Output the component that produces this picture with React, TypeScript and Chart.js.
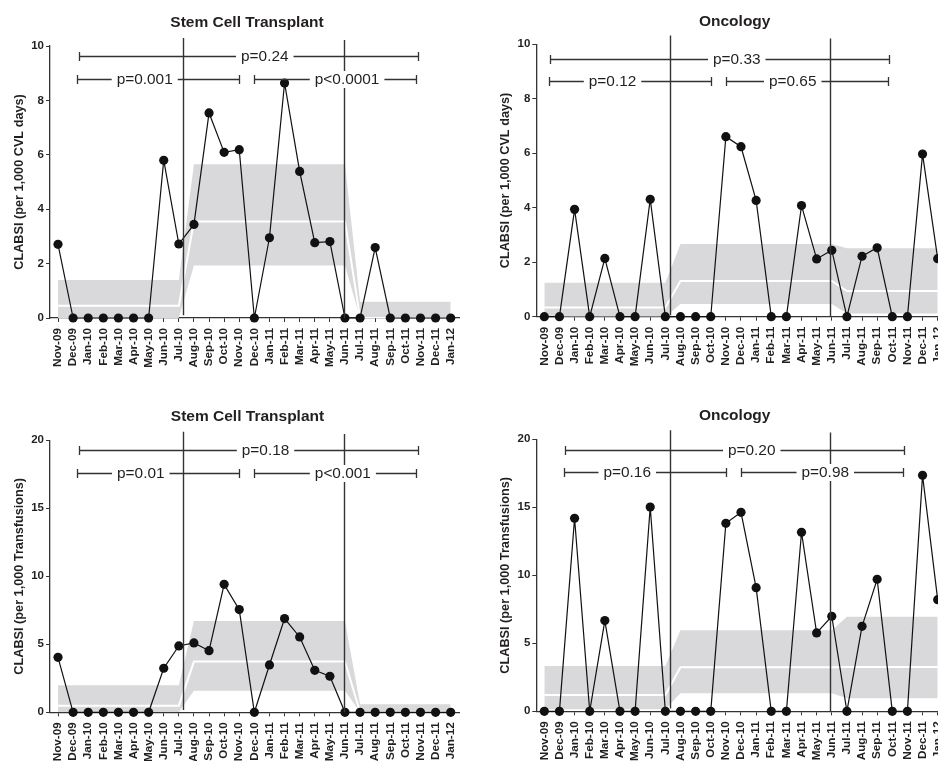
import React, { useEffect, useRef } from "react";
import { Chart, registerables } from "chart.js";

Chart.register(...registerables);

const FONT = '"Liberation Sans", Arial, Helvetica, sans-serif';
const INK = "#231f20";
const AXIS = "#333333";
const BAND = "#d9d9db";

const months = [
  "Nov-09", "Dec-09", "Jan-10", "Feb-10", "Mar-10", "Apr-10", "May-10", "Jun-10", "Jul-10",
  "Aug-10", "Sep-10", "Oct-10", "Nov-10", "Dec-10", "Jan-11", "Feb-11", "Mar-11", "Apr-11",
  "May-11", "Jun-11", "Jul-11", "Aug-11", "Sep-11", "Oct-11", "Nov-11", "Dec-11", "Jan-12",
];

// Stem Cell Transplant – CLABSI per 1,000 CVL days
const sctCvlRates = [2.71, 0, 0, 0, 0, 0, 0, 5.8, 2.72, 3.44, 7.54, 6.09, 6.19, 0, 2.95, 8.64, 5.39, 2.77, 2.81, 0, 0, 2.59, 0, 0, 0, 0, 0];
const sctCvlUpper = [1.4, 1.4, 1.4, 1.4, 1.4, 1.4, 1.4, 1.4, 1.4, 5.65, 5.65, 5.65, 5.65, 5.65, 5.65, 5.65, 5.65, 5.65, 5.65, 5.65, 0.6, 0.6, 0.6, 0.6, 0.6, 0.6, 0.6];
const sctCvlMedian = [0.45, 0.45, 0.45, 0.45, 0.45, 0.45, 0.45, 0.45, 0.45, 3.55, 3.55, 3.55, 3.55, 3.55, 3.55, 3.55, 3.55, 3.55, 3.55, 3.55, 0, 0, 0, 0, 0, 0, 0];
const sctCvlLower = [0, 0, 0, 0, 0, 0, 0, 0, 0, 1.93, 1.93, 1.93, 1.93, 1.93, 1.93, 1.93, 1.93, 1.93, 1.93, 1.93, 0, 0, 0, 0, 0, 0, 0];
const sctCvlBrackets: [number, number, number, string, number][] = [
  [1.37, 23.84, 9.65, "p=0.24", 13.69],
  [1.26, 12.01, 8.79, "p=0.001", 5.74],
  [12.98, 23.71, 8.79, "p<0.0001", 19.14],
];
const sctCvlPhaseLines: [number, number, number][] = [[8.28, 10.29, 0.1], [18.95, 10.22, 0]];

// Oncology – CLABSI per 1,000 CVL days
const oncCvlRates = [0, 0, 3.94, 0, 2.14, 0, 0, 4.31, 0, 0, 0, 0, 6.61, 6.24, 4.27, 0, 0, 4.08, 2.12, 2.44, 0, 2.22, 2.53, 0, 0, 5.97, 2.13];
const oncCvlUpper = [1.25, 1.25, 1.25, 1.25, 1.25, 1.25, 1.25, 1.25, 1.25, 2.67, 2.67, 2.67, 2.67, 2.67, 2.67, 2.67, 2.67, 2.67, 2.67, 2.67, 2.51, 2.51, 2.51, 2.51, 2.51, 2.51, 2.51];
const oncCvlMedian = [0.34, 0.34, 0.34, 0.34, 0.34, 0.34, 0.34, 0.34, 0.34, 1.31, 1.31, 1.31, 1.31, 1.31, 1.31, 1.31, 1.31, 1.31, 1.31, 1.31, 0.94, 0.94, 0.94, 0.94, 0.94, 0.94, 0.94];
const oncCvlLower = [0, 0, 0, 0, 0, 0, 0, 0, 0, 0.47, 0.47, 0.47, 0.47, 0.47, 0.47, 0.47, 0.47, 0.47, 0.47, 0.47, 0.12, 0.12, 0.12, 0.12, 0.12, 0.12, 0.12];
const oncCvlBrackets: [number, number, number, string, number][] = [
  [0.4, 22.8, 9.46, "p=0.33", 12.72],
  [0.29, 11.02, 8.66, "p=0.12", 4.51],
  [11.99, 22.7, 8.66, "p=0.65", 16.42],
];
const oncCvlPhaseLines: [number, number, number][] = [[8.29, 10.32, 0.05], [18.9, 10.21, 0]];

// Stem Cell Transplant – CLABSI per 1,000 Transfusions
const sctTxRates = [4.04, 0, 0, 0, 0, 0, 0, 3.24, 4.88, 5.1, 4.53, 9.41, 7.55, 0, 3.48, 6.89, 5.54, 3.09, 2.65, 0, 0, 0, 0, 0, 0, 0, 0];
const sctTxUpper = [1.99, 1.99, 1.99, 1.99, 1.99, 1.99, 1.99, 1.99, 1.99, 6.72, 6.72, 6.72, 6.72, 6.72, 6.72, 6.72, 6.72, 6.72, 6.72, 6.72, 0.59, 0.59, 0.59, 0.59, 0.59, 0.59, 0.59];
const sctTxMedian = [0.49, 0.49, 0.49, 0.49, 0.49, 0.49, 0.49, 0.49, 0.49, 3.73, 3.73, 3.73, 3.73, 3.73, 3.73, 3.73, 3.73, 3.73, 3.73, 3.73, 0, 0, 0, 0, 0, 0, 0];
const sctTxLower = [0, 0, 0, 0, 0, 0, 0, 0, 0, 1.59, 1.59, 1.59, 1.59, 1.59, 1.59, 1.59, 1.59, 1.59, 1.59, 1.59, 0, 0, 0, 0, 0, 0, 0];
const sctTxBrackets: [number, number, number, string, number][] = [
  [1.39, 23.83, 19.26, "p=0.18", 13.74],
  [1.28, 12.01, 17.6, "p=0.01", 5.48],
  [12.98, 23.7, 17.6, "p<0.001", 18.86],
];
const sctTxPhaseLines: [number, number, number][] = [[8.29, 20.63, 0.17], [18.96, 20.46, 0]];

// Oncology – CLABSI per 1,000 Transfusions
const oncTxRates = [0, 0, 14.19, 0, 6.67, 0, 0, 15.02, 0, 0, 0, 0, 13.82, 14.63, 9.09, 0, 0, 13.16, 5.76, 6.99, 0, 6.25, 9.71, 0, 0, 17.35, 8.21];
const oncTxUpper = [3.33, 3.33, 3.33, 3.33, 3.33, 3.33, 3.33, 3.33, 3.33, 5.96, 5.96, 5.96, 5.96, 5.96, 5.96, 5.96, 5.96, 5.96, 5.96, 5.96, 6.96, 6.96, 6.96, 6.96, 6.96, 6.96, 6.96];
const oncTxMedian = [1.2, 1.2, 1.2, 1.2, 1.2, 1.2, 1.2, 1.2, 1.2, 3.23, 3.23, 3.23, 3.23, 3.23, 3.23, 3.23, 3.23, 3.23, 3.23, 3.23, 3.26, 3.26, 3.26, 3.26, 3.26, 3.26, 3.26];
const oncTxLower = [0.15, 0.15, 0.15, 0.15, 0.15, 0.15, 0.15, 0.15, 0.15, 1.32, 1.32, 1.32, 1.32, 1.32, 1.32, 1.32, 1.32, 1.32, 1.32, 1.32, 0.96, 0.96, 0.96, 0.96, 0.96, 0.96, 0.96];
const oncTxBrackets: [number, number, number, string, number][] = [
  [1.39, 23.77, 19.24, "p=0.20", 13.71],
  [1.3, 12.0, 17.57, "p=0.16", 5.48],
  [12.98, 23.7, 17.57, "p=0.98", 18.57],
];
const oncTxPhaseLines: [number, number, number][] = [[8.29, 20.66, 0.2], [18.9, 20.5, 0]];

type Panel = {
  key: string;
  left: number; top: number; width: number; height: number;
  yWidth: number; padTop: number; padRight: number; xHeight: number; yTitlePad: number;
  title: string; titleX: number; titleBaseline: number;
  yTitle: string; yMax: number; yStep: number;
  rates: number[]; upper: number[]; median: number[]; lower: number[];
  brackets: [number, number, number, string, number][];
  phases: [number, number, number][];
};

const panels: Panel[] = [
  {
    key: "sct-cvl", left: 0, top: 0, width: 469, height: 380,
    yWidth: 50, padTop: 46, padRight: 10, xHeight: 62, yTitlePad: 11.4,
    title: "Stem Cell Transplant", titleX: 247, titleBaseline: 26.7,
    yTitle: "CLABSI (per 1,000 CVL days)", yMax: 10, yStep: 2,
    rates: sctCvlRates, upper: sctCvlUpper, median: sctCvlMedian, lower: sctCvlLower,
    brackets: sctCvlBrackets, phases: sctCvlPhaseLines,
  },
  {
    key: "onc-cvl", left: 469, top: 0, width: 490, height: 380,
    yWidth: 67.3, padTop: 44.3, padRight: 13, xHeight: 63.3, yTitlePad: 28.6,
    title: "Oncology", titleX: 265.7, titleBaseline: 26,
    yTitle: "CLABSI (per 1,000 CVL days)", yMax: 10, yStep: 2,
    rates: oncCvlRates, upper: oncCvlUpper, median: oncCvlMedian, lower: oncCvlLower,
    brackets: oncCvlBrackets, phases: oncCvlPhaseLines,
  },
  {
    key: "sct-tx", left: 0, top: 380, width: 469, height: 381,
    yWidth: 50, padTop: 60.3, padRight: 10, xHeight: 48.7, yTitlePad: 11.4,
    title: "Stem Cell Transplant", titleX: 247.5, titleBaseline: 41,
    yTitle: "CLABSI (per 1,000 Transfusions)", yMax: 20, yStep: 5,
    rates: sctTxRates, upper: sctTxUpper, median: sctTxMedian, lower: sctTxLower,
    brackets: sctTxBrackets, phases: sctTxPhaseLines,
  },
  {
    key: "onc-tx", left: 469, top: 380, width: 490, height: 381,
    yWidth: 67.3, padTop: 59.3, padRight: 13, xHeight: 49.7, yTitlePad: 28.9,
    title: "Oncology", titleX: 265.7, titleBaseline: 40,
    yTitle: "CLABSI (per 1,000 Transfusions)", yMax: 20, yStep: 5,
    rates: oncTxRates, upper: oncTxUpper, median: oncTxMedian, lower: oncTxLower,
    brackets: oncTxBrackets, phases: oncTxPhaseLines,
  },
];

function makeOverlay(p: Panel) {
  return {
    id: "overlay-" + p.key,
    afterDatasetsDraw(chart: any) {
      const { ctx } = chart;
      const xs = chart.scales.x;
      const ys = chart.scales.y;
      ctx.save();
      // phase boundary lines
      ctx.strokeStyle = AXIS;
      ctx.lineWidth = 1.4;
      for (const [lx, t, b] of p.phases) {
        const px = Math.round(xs.getPixelForValue(lx)) + 0.5;
        ctx.beginPath();
        ctx.moveTo(px, ys.getPixelForValue(t));
        ctx.lineTo(px, ys.getPixelForValue(b));
        ctx.stroke();
      }
      // p-value brackets
      ctx.font = `15.4px ${FONT}`;
      ctx.textAlign = "center";
      ctx.textBaseline = "middle";
      for (const [from, to, level, label, at] of p.brackets) {
        const x1 = Math.round(xs.getPixelForValue(from)) + 0.5;
        const x2 = Math.round(xs.getPixelForValue(to)) + 0.5;
        const yy = Math.round(ys.getPixelForValue(level)) + 0.5;
        ctx.strokeStyle = AXIS;
        ctx.lineWidth = 1.3;
        ctx.beginPath();
        ctx.moveTo(x1, yy);
        ctx.lineTo(x2, yy);
        ctx.moveTo(x1, yy - 4.5);
        ctx.lineTo(x1, yy + 4.5);
        ctx.moveTo(x2, yy - 4.5);
        ctx.lineTo(x2, yy + 4.5);
        ctx.stroke();
        const cx = xs.getPixelForValue(at);
        const w = ctx.measureText(label).width;
        ctx.fillStyle = "#ffffff";
        ctx.fillRect(cx - w / 2 - 5, yy - 8.5, w + 10, 17);
        ctx.fillStyle = INK;
        ctx.fillText(label, cx, yy + 0.5);
      }
      // panel title
      ctx.font = `bold 15.5px ${FONT}`;
      ctx.textBaseline = "alphabetic";
      ctx.fillStyle = INK;
      ctx.fillText(p.title, p.titleX, p.titleBaseline);
      ctx.restore();
    },
  };
}

function PanelChart({ p }: { p: Panel }) {
  const ref = useRef<HTMLCanvasElement | null>(null);
  useEffect(() => {
    const canvas = ref.current;
    if (!canvas) return;
    const pts = (arr: number[]) => arr.map((v, i) => ({ x: i, y: v }));
    const yTickFont = { family: FONT, size: 11.5, weight: "bold" as const };
    const xTickFont = { family: FONT, size: 11.7, weight: "bold" as const };
    const chart = new Chart(canvas, {
      type: "line",
      data: {
        datasets: [
          {
            data: pts(p.rates),
            borderColor: "#111111",
            backgroundColor: "#111111",
            borderWidth: 1.2,
            pointRadius: 4.6,
            pointBackgroundColor: "#111111",
            pointBorderWidth: 0,
            tension: 0,
            fill: false,
            clip: false as any,
          },
          {
            data: pts(p.median),
            borderColor: "#ffffff",
            borderWidth: 2,
            pointRadius: 0,
            tension: 0,
            fill: false,
          },
          {
            data: pts(p.upper),
            borderColor: "rgba(0,0,0,0)",
            backgroundColor: BAND,
            borderWidth: 1,
            pointRadius: 0,
            tension: 0,
            fill: "+1",
          },
          {
            data: pts(p.lower),
            borderColor: "rgba(0,0,0,0)",
            borderWidth: 1,
            pointRadius: 0,
            tension: 0,
            fill: false,
          },
        ],
      },
      options: {
        responsive: false,
        animation: false,
        devicePixelRatio: 1,
        events: [],
        layout: { padding: { left: 0, right: p.padRight, top: p.padTop, bottom: 0 } },
        plugins: { legend: { display: false }, tooltip: { enabled: false }, title: { display: false } },
        scales: {
          x: {
            type: "linear",
            min: -0.53,
            max: 26.55,
            afterBuildTicks: (s: any) => {
              s.ticks = months.map((_, i) => ({ value: i }));
            },
            afterFit: (s: any) => {
              s.height = p.xHeight;
              s.paddingLeft = 0;
              s.paddingRight = 0;
            },
            ticks: {
              autoSkip: false,
              minRotation: 90,
              maxRotation: 90,
              padding: 6,
              color: INK,
              font: xTickFont,
              callback: (v: any) => months[Math.round(Number(v))] ?? "",
            },
            grid: { drawOnChartArea: false, drawTicks: true, tickLength: 4, color: AXIS, lineWidth: 1 },
            border: { display: true, color: AXIS, width: 1.3 },
          },
          y: {
            type: "linear",
            min: 0,
            max: p.yMax,
            afterFit: (s: any) => {
              s.width = p.yWidth;
              s.paddingTop = 0;
              s.paddingBottom = 0;
            },
            ticks: { stepSize: p.yStep, padding: 2, color: INK, font: yTickFont },
            grid: { drawOnChartArea: false, drawTicks: true, tickLength: 4, color: AXIS, lineWidth: 1 },
            border: { display: true, color: AXIS, width: 1.3 },
            title: {
              display: true,
              text: p.yTitle,
              color: INK,
              font: { family: FONT, size: 12.7, weight: "bold", lineHeight: 1.2 },
              padding: { top: p.yTitlePad, bottom: 0 },
            },
          },
        },
      },
      plugins: [makeOverlay(p)],
    } as any);
    return () => chart.destroy();
  }, [p]);
  return (
    <canvas
      ref={ref}
      width={p.width}
      height={p.height}
      style={{ position: "absolute", left: p.left, top: p.top, width: p.width, height: p.height }}
    />
  );
}

export default function App() {
  return (
    <div
      style={{
        position: "absolute",
        left: 0,
        top: 0,
        width: 938,
        height: 761,
        overflow: "hidden",
        background: "#ffffff",
      }}
    >
      {panels.map((p) => (
        <PanelChart key={p.key} p={p} />
      ))}
    </div>
  );
}
